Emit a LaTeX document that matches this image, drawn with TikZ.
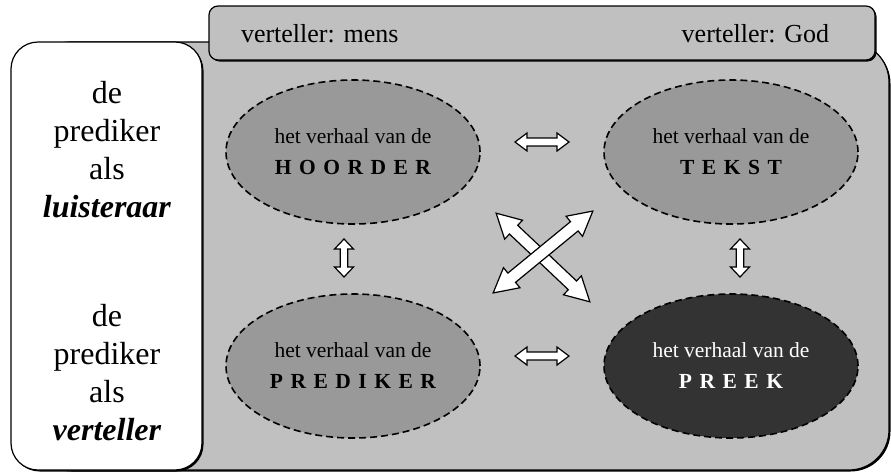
\documentclass[tikz,border=0pt]{standalone}
\usepackage{fontspec}
\setmainfont{Liberation Serif}
\usetikzlibrary{shapes.geometric,calc}

\definecolor{panelgray}{HTML}{C0C0C0}
\definecolor{bubblegray}{HTML}{999999}
\definecolor{darkbubble}{HTML}{333333}

% letter spacing for the spaced capitals
\newcommand\ls{\kern 7.5pt}

% outlined double-headed block arrow
% #1 name, #2 centre, #3 angle, #4 length, #5 shaft width, #6 head width, #7 head length
\newcommand\blockarrow[7]{%
  \coordinate (#1) at #2;
  \pgfmathsetmacro\baL{#4/2}%
  \pgfmathsetmacro\baS{#5/2}%
  \pgfmathsetmacro\baH{#6/2}%
  \pgfmathsetmacro\baB{#4/2-#7}%
  \draw[arrowbody, shift={(#1)}, rotate=#3]
    (-\baL,0) -- (-\baB,\baH) -- (-\baB,\baS) -- (\baB,\baS) -- (\baB,\baH)
    -- (\baL,0) -- (\baB,-\baH) -- (\baB,-\baS) -- (-\baB,-\baS)
    -- (-\baB,-\baH) -- cycle;
}

\begin{document}
\begin{tikzpicture}[x=1pt,y=-1pt,
  panel/.style={draw=black, line width=1.2pt},
  shade/.style={fill=black},
  plain/.style={inner sep=0pt, outer sep=0pt},
  headtext/.style={plain, font=\fontsize{26}{30}\selectfont},
  sidetext/.style={plain, align=center, font=\fontsize{32}{38}\selectfont},
  bubble/.style={ellipse, draw=black, line width=1.6pt,
    dash pattern=on 7pt off 4pt, fill=bubblegray,
    minimum width=254pt, minimum height=144pt, inner sep=0pt,
    align=center, font=\fontsize{21.5}{31}\selectfont},
  arrowbody/.style={draw=black, fill=white, line width=1.2pt, line join=miter},
]
\useasboundingbox (0,0) rectangle (891,472);

% grey panel holding the four stories
\fill[shade, rounded corners=40pt] (31.5,43.5) rectangle (890.5,471.5);
\draw[panel, fill=panelgray, rounded corners=40pt] (30,42) rectangle (889,470);

% header bar
\fill[shade, rounded corners=9pt] (210.5,7.5) rectangle (876.5,61.5);
\draw[panel, fill=panelgray, rounded corners=9pt] (209,6) rectangle (875,60);
\node[headtext, anchor=base west] (mens) at (241,42) {verteller: mens};
\node[headtext, anchor=base east] (god) at (829,42) {verteller: God};

% side column
\fill[shade, rounded corners=27pt] (12.5,43.5) rectangle (203.5,471.5);
\draw[panel, fill=white, rounded corners=27pt] (11,42) rectangle (202,470);
\node[sidetext] (listener) at (107,150)
  {de\\prediker\\als\\\textbf{\textit{luisteraar}}};
\node[sidetext] (narrator) at (107,373)
  {de\\prediker\\als\\\textbf{\textit{verteller}}};

% the four stories
\node[bubble] (hoorder) at (353,152)
  {het verhaal van de\\\textbf{H\ls O\ls O\ls R\ls D\ls E\ls R}};
\node[bubble] (tekst) at (731,152)
  {het verhaal van de\\\textbf{T\ls E\ls K\ls S\ls T}};
\node[bubble] (prediker) at (353,366)
  {het verhaal van de\\\textbf{P\ls R\ls E\ls D\ls I\ls K\ls E\ls R}};
\node[bubble, fill=darkbubble, text=white] (preek) at (731,366)
  {het verhaal van de\\\textbf{P\ls R\ls E\ls E\ls K}};

% links between the stories
\blockarrow{topLink}{($(hoorder)!.5!(tekst)+(0,-10)$)}{0}{54}{8}{18}{12}
\blockarrow{bottomLink}{($(prediker)!.5!(preek)+(0,-10)$)}{0}{54}{8}{18}{12}
\blockarrow{leftLink}{($(hoorder)!.5!(prediker)+(-9,-1)$)}{90}{38}{7.5}{19}{10}
\blockarrow{rightLink}{($(tekst)!.5!(preek)+(9,-1)$)}{90}{38}{7.5}{19}{10}
\blockarrow{fallLink}{($(hoorder)!.5!(preek)+(1,-1.5)$)}{-43.4}{129}{12}{26}{24}
\blockarrow{riseLink}{($(prediker)!.5!(tekst)+(1,-7)$)}{39.4}{129}{12}{26}{24}
\end{tikzpicture}
\end{document}
